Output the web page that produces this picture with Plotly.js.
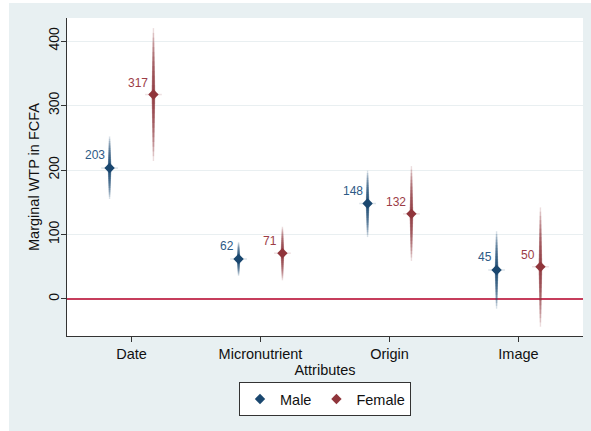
<!DOCTYPE html>
<html>
<head>
<meta charset="utf-8">
<script src="https://cdn.plot.ly/plotly-3.0.1.min.js"></script>
<style>
  html, body { margin: 0; padding: 0; background: #ffffff; width: 591px; height: 431px; overflow: hidden; }
  #chart { position: absolute; left: 9px; top: 3px; width: 582px; height: 428px; }
</style>
</head>
<body>
<div id="chart"></div>
<script>
// ---- data ----
const categories = ['Date', 'Micronutrient', 'Origin', 'Image'];
const maleWTP   = [203, 62, 148, 45];
const femaleWTP = [317, 71, 132, 50];
const maleLow    = [155, 36, 96, -15];
const maleHigh   = [252, 88, 199, 105];
const femaleLow  = [214, 29, 59, -43];
const femaleHigh = [420, 112, 206, 142];
const yTicks = [0, 100, 200, 300, 400];

// ---- styling ----
const MALE = '#1a476f';
const FEMALE = '#90353b';
const FONT = 'Liberation Sans, Arial, sans-serif';
const OFFSET = 0.17;
const NLAYER = 14;

function rgba(hex, a) {
  const r = parseInt(hex.slice(1, 3), 16), g = parseInt(hex.slice(3, 5), 16), b = parseInt(hex.slice(5, 7), 16);
  return 'rgba(' + r + ',' + g + ',' + b + ',' + a + ')';
}

const traces = [];
function addGroup(name, vals, lows, highs, color, shift) {
  const xs = categories.map((c, i) => i + 1 + shift);
  // faded confidence spikes: stacked translucent error bars
  for (let k = 1; k <= NLAYER; k++) {
    const f = k / NLAYER;
    traces.push({
      type: 'scatter', mode: 'markers', x: xs, y: vals,
      marker: { size: 1, color: 'rgba(0,0,0,0)' },
      error_y: {
        type: 'data', symmetric: false,
        array: vals.map((v, i) => (highs[i] - v) * f),
        arrayminus: vals.map((v, i) => (v - lows[i]) * f),
        color: rgba(color, 0.17), thickness: 1.4 + 2.6 * (1 - f), width: 0
      },
      showlegend: false, hoverinfo: 'skip'
    });
  }
  // faint horizontal flare
  traces.push({
    type: 'scatter', mode: 'markers', x: xs, y: vals,
    marker: { size: 1, color: 'rgba(0,0,0,0)' },
    error_x: { type: 'constant', value: 0.065, color: rgba(color, 0.15), thickness: 1.5, width: 0 },
    showlegend: false, hoverinfo: 'skip'
  });
  traces.push({
    type: 'scatter', mode: 'markers', x: xs, y: vals,
    marker: { size: 1, color: 'rgba(0,0,0,0)' },
    error_x: { type: 'constant', value: 0.035, color: rgba(color, 0.25), thickness: 1.5, width: 0 },
    showlegend: false, hoverinfo: 'skip'
  });
  // marker
  traces.push({
    type: 'scatter', mode: 'markers', name: name, x: xs, y: vals,
    marker: { symbol: 'diamond', size: 8, color: color },
    hoverinfo: 'skip'
  });
  return xs;
}

const maleX = addGroup('Male', maleWTP, maleLow, maleHigh, MALE, -OFFSET);
const femaleX = addGroup('Female', femaleWTP, femaleLow, femaleHigh, FEMALE, OFFSET);

const annotations = [];
maleWTP.forEach((v, i) => annotations.push({
  x: maleX[i], y: v, text: String(v), showarrow: false, xanchor: 'right', yanchor: 'middle',
  xshift: -3, yshift: 13, font: { family: FONT, size: 12, color: '#2d5a86' }
}));
femaleWTP.forEach((v, i) => annotations.push({
  x: femaleX[i], y: v, text: String(v), showarrow: false, xanchor: 'right', yanchor: 'middle',
  xshift: -3, yshift: 12, font: { family: FONT, size: 12, color: '#9c3c46' }
}));

const layout = {
  width: 582, height: 428,
  margin: { l: 58, r: 8, t: 15, b: 95 },
  paper_bgcolor: '#e8f0f2',
  plot_bgcolor: '#ffffff',
  font: { family: FONT, color: '#111111' },
  showlegend: true,
  xaxis: {
    range: [0.5, 4.5], tickvals: [1, 2, 3, 4], ticktext: categories,
    showgrid: false, zeroline: false,
    showline: true, linecolor: '#333333', linewidth: 1,
    ticks: 'outside', ticklen: 5, tickcolor: '#333333',
    tickfont: { family: FONT, size: 14.5, color: '#111111' },
    title: { text: 'Attributes', font: { family: FONT, size: 14.5, color: '#111111' }, standoff: 0 }
  },
  yaxis: {
    range: [-57.4, 435.7], tickvals: yTicks, tickangle: -90,
    showgrid: true, gridcolor: '#e9eff1', gridwidth: 1,
    zeroline: true, zerolinecolor: '#c63d5c', zerolinewidth: 1.5,
    showline: true, linecolor: '#333333', linewidth: 1,
    ticks: 'outside', ticklen: 5, tickcolor: '#333333',
    ticklabelstandoff: -4,
    tickfont: { family: FONT, size: 14, color: '#111111' },
    title: { text: 'Marginal WTP in FCFA', font: { family: FONT, size: 14.5, color: '#111111' }, standoff: 3 }
  },
  legend: {
    orientation: 'h', x: 0.5, xanchor: 'center', y: -0.145, yanchor: 'top',
    bgcolor: '#ffffff', bordercolor: '#333333', borderwidth: 1,
    font: { family: FONT, size: 14.5, color: '#111111' },
    itemwidth: 30
  },
  annotations: annotations
};

Plotly.newPlot('chart', traces, layout, { displayModeBar: false, staticPlot: true });
</script>
</body>
</html>
